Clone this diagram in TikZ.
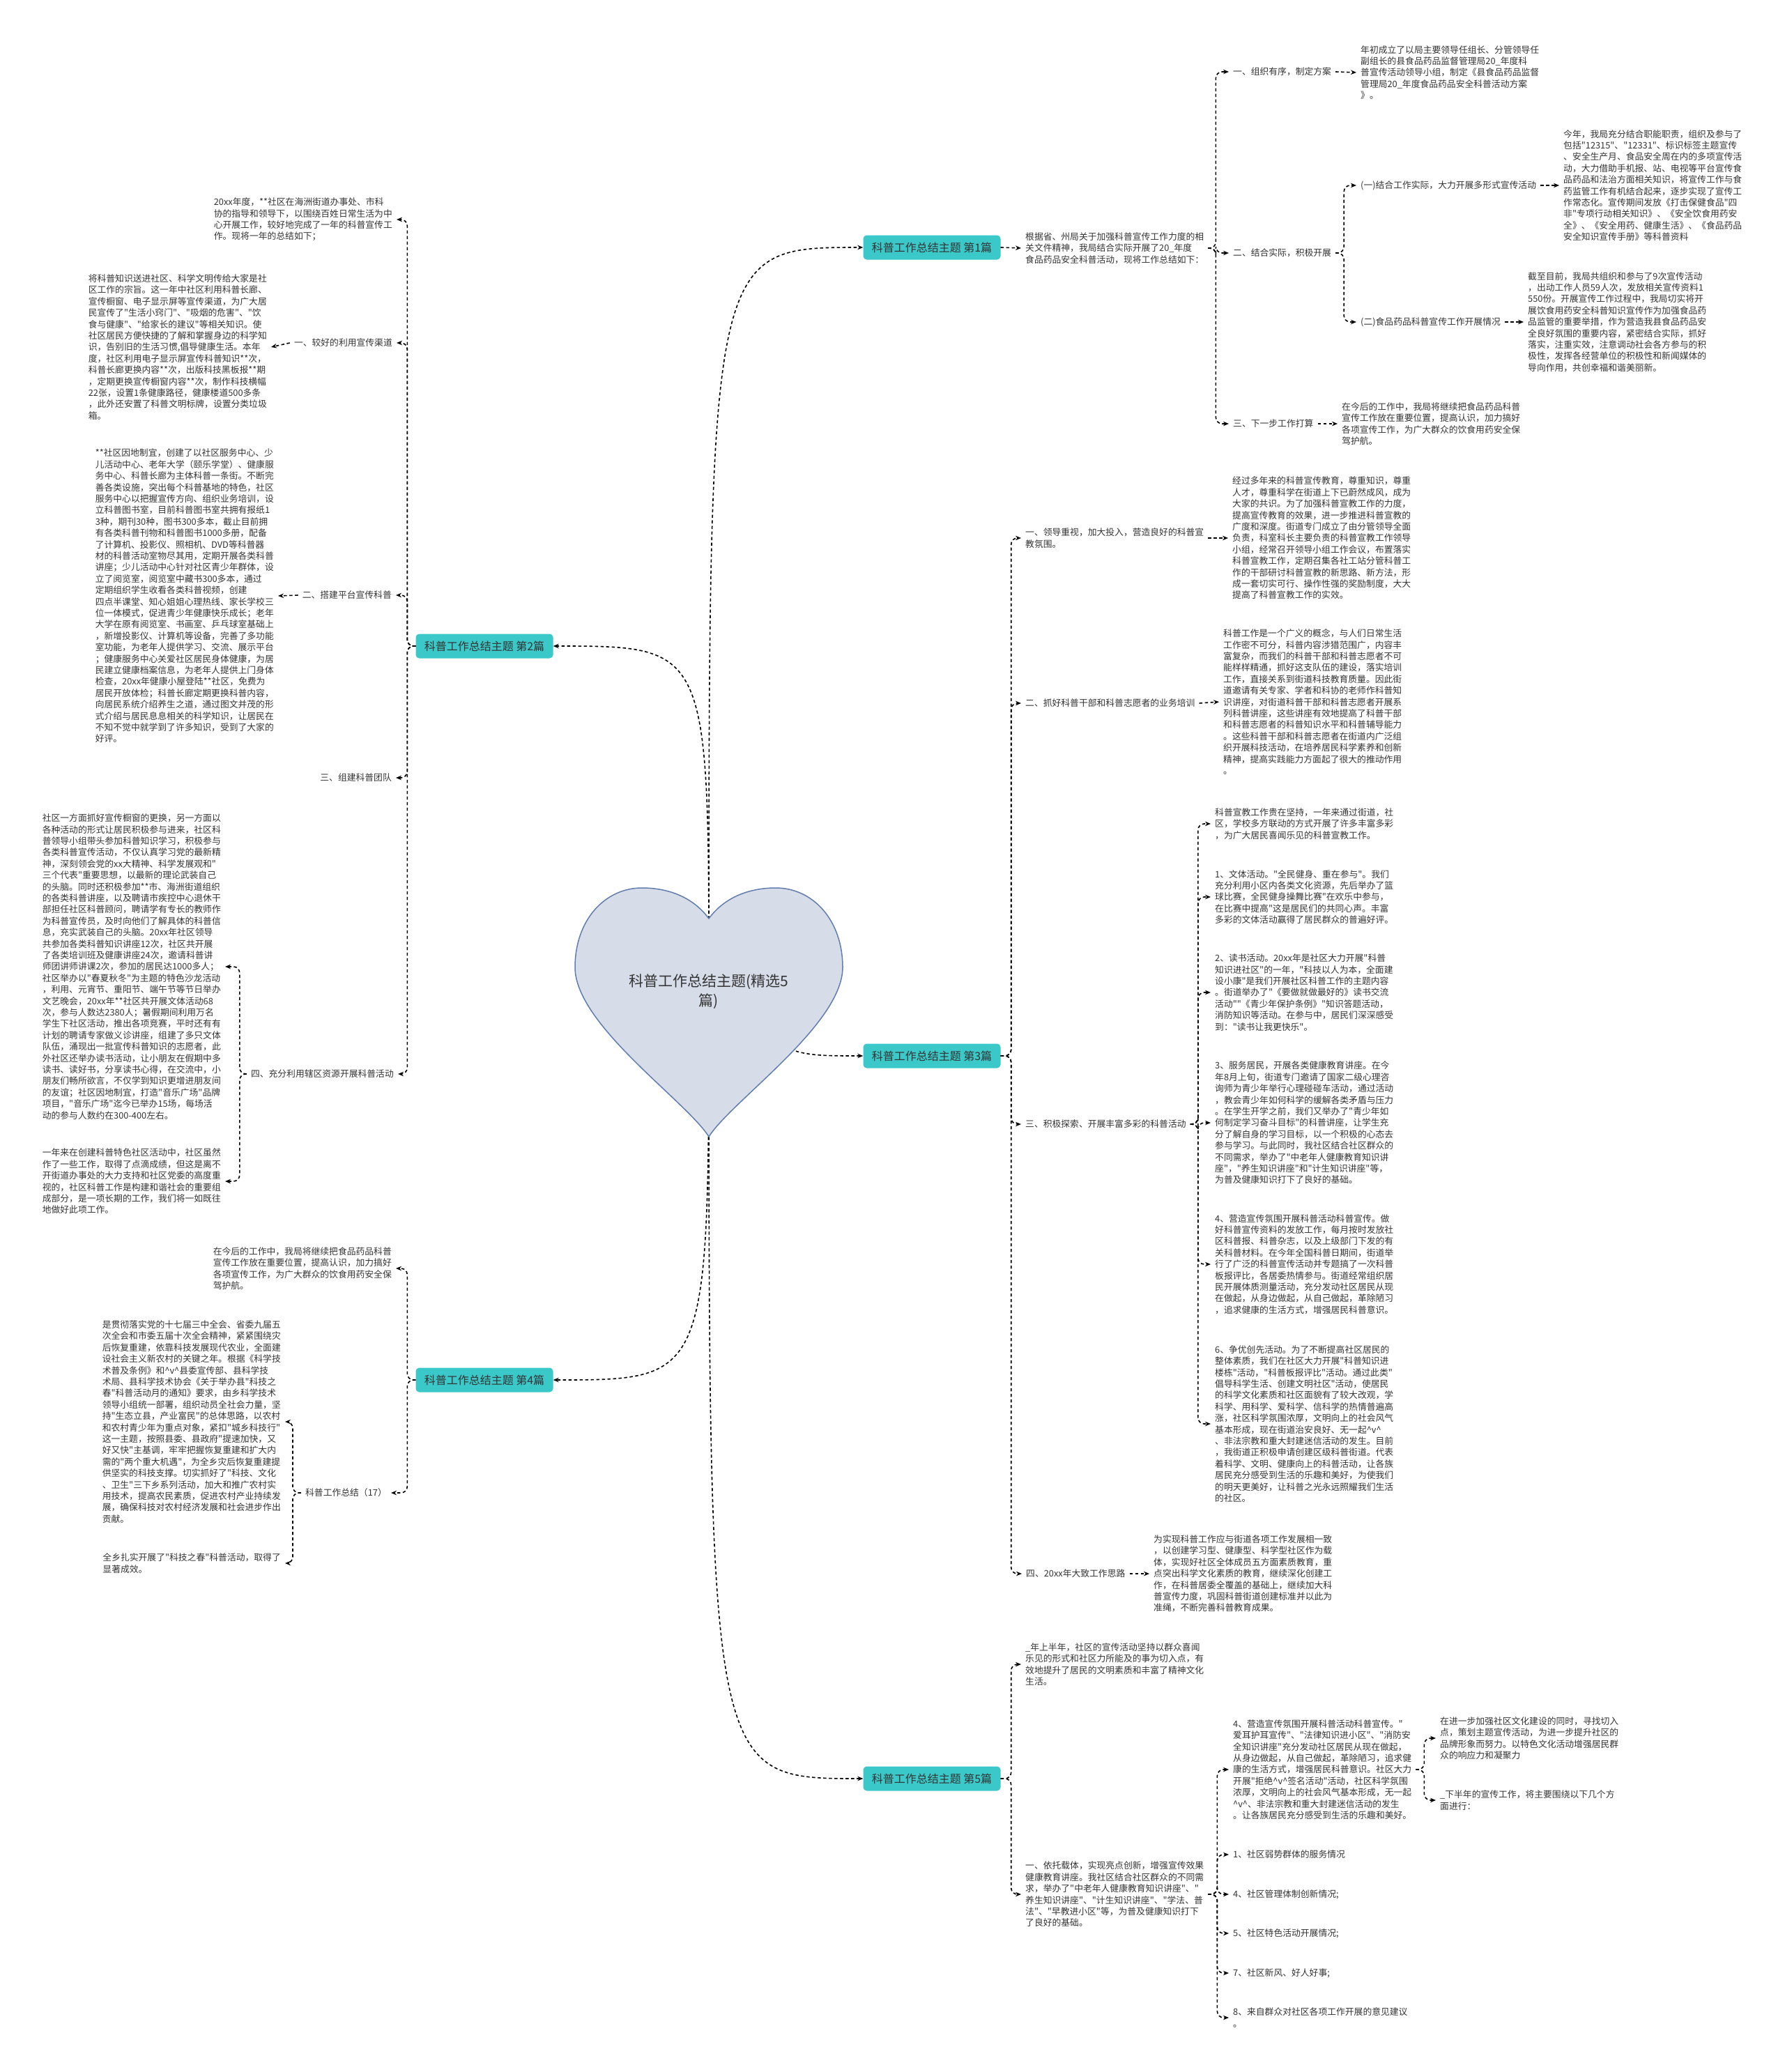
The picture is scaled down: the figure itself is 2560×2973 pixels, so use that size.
\documentclass[tikz,border=0pt]{standalone}
\usepackage{fontspec}
\setmainfont{Noto Sans CJK SC}[Ligatures=TeXOff]
\usetikzlibrary{arrows.meta}
\definecolor{tuerkis}{RGB}{58,200,200}
\definecolor{herzrand}{RGB}{95,125,175}
\definecolor{herzfuell}{RGB}{214,221,233}
\definecolor{schrift}{RGB}{51,51,51}
\newcommand{\hatv}{\textasciicircum v\textasciicircum}
\pgfdeclarelayer{hinten}
\pgfsetlayers{hinten,main}
\tikzset{
  ast/.style={fill=tuerkis, rounded corners=5pt, minimum width=197pt, minimum height=35pt,
    font=\fontsize{16}{18}\selectfont, text=schrift, inner sep=0pt},
  txt/.style={font=\fontsize{12.8}{16.4}\selectfont, text=schrift, align=left,
    inner xsep=6pt, inner ysep=2pt},
  rt/.style={txt, anchor=west},
  lt/.style={txt, anchor=east},
  pfeil/.style={draw=black, line width=1.6pt, dash pattern=on 4.5pt off 3.5pt,
    -{Stealth[length=8pt,width=6.5pt]}, rounded corners=9pt},
}
\begin{document}
\begin{tikzpicture}[x=1pt,y=-1pt]
        \useasboundingbox (0,0) rectangle (2560,2973);
        % Zentrum
        \node[font=\fontsize{21}{28}\selectfont, text=schrift, align=center] (root) at (1017,1423) {科普工作总结主题(精选5\\篇)};
        % Hauptaeste
        \node[ast] (b1) at (1337,355) {科普工作总结主题 第1篇};
        \node[ast] (b2) at (695,927) {科普工作总结主题 第2篇};
        \node[ast] (b3) at (1337,1515) {科普工作总结主题 第3篇};
        \node[ast] (b4) at (695,1980) {科普工作总结主题 第4篇};
        \node[ast] (b5) at (1337,2552) {科普工作总结主题 第5篇};
        % Ast 1
        \node[rt] (t1) at (1465,356) {根据省、州局关于加强科普宣传工作力度的相\\关文件精神，我局结合实际开展了20\_年度\\食品药品安全科普活动，现将工作总结如下：};
        \node[rt] (l1a) at (1763,103) {一、组织有序，制定方案};
        \node[rt] (l1b) at (1763,363) {二、结合实际，积极开展};
        \node[rt] (l1c) at (1763,608) {三、下一步工作打算};
        \node[rt] (x1a) at (1946,104) {年初成立了以局主要领导任组长、分管领导任\\副组长的县食品药品监督管理局20\_年度科\\普宣传活动领导小组，制定《县食品药品监督\\管理局20\_年度食品药品安全科普活动方案\\》。};
        \node[rt] (l1b1) at (1946,266) {(一)结合工作实际，大力开展多形式宣传活动};
        \node[rt] (l1b2) at (1946,462) {(二)食品药品科普宣传工作开展情况};
        \node[rt] (x1b1) at (2237,266) {今年，我局充分结合职能职责，组织及参与了\\包括"12315"、"12331"、标识标签主题宣传\\、安全生产月、食品安全周在内的多项宣传活\\动，大力借助手机报、站、电视等平台宣传食\\品药品和法治方面相关知识，将宣传工作与食\\药监管工作有机结合起来，逐步实现了宣传工\\作常态化。宣传期间发放《打击保健食品"四\\非"专项行动相关知识》、《安全饮食用药安\\全》、《安全用药、健康生活》、《食品药品\\安全知识宣传手册》等科普资料};
        \node[rt] (x1b2) at (2186,462) {截至目前，我局共组织和参与了9次宣传活动\\，出动工作人员59人次，发放相关宣传资料1\\550份。开展宣传工作过程中，我局切实将开\\展饮食用药安全科普知识宣传作为加强食品药\\品监管的重要举措，作为营造我县食品药品安\\全良好氛围的重要内容，紧密结合实际，抓好\\落实，注重实效，注意调动社会各方参与的积\\极性，发挥各经营单位的积极性和新闻媒体的\\导向作用，共创幸福和谐美丽新。};
        \node[rt] (x1c) at (1919,608) {在今后的工作中，我局将继续把食品药品科普\\宣传工作放在重要位置，提高认识，加力搞好\\各项宣传工作，为广大群众的饮食用药安全保\\驾护航。};
        % Ast 2
        \node[lt] (x2a) at (569,315) {20xx年度，**社区在海洲街道办事处、市科\\协的指导和领导下，以围绕百姓日常生活为中\\心开展工作，较好地完成了一年的科普宣传工\\作。现将一年的总结如下；};
        \node[lt] (l2a) at (569,492) {一、较好的利用宣传渠道};
        \node[lt] (l2b) at (568,854) {二、搭建平台宣传科普};
        \node[lt] (l2c) at (568,1116) {三、组建科普团队};
        \node[lt] (l2d) at (571,1541) {四、充分利用辖区资源开展科普活动};
        \node[lt] (xa) at (389,498) {将科普知识送进社区、科学文明传给大家是社\\区工作的宗旨。这一年中社区利用科普长廊、\\宣传橱窗、电子显示屏等宣传渠道，为广大居\\民宣传了"生活小窍门"、"吸烟的危害"、"饮\\食与健康"、"给家长的建议"等相关知识。使\\社区居民方便快捷的了解和掌握身边的科学知\\识，告别旧的生活习惯,倡导健康生活。本年\\度，社区利用电子显示屏宣传科普知识**次，\\科普长廊更换内容**次，出版科技黑板报**期\\，定期更换宣传橱窗内容**次，制作科技横幅\\22张，设置1条健康路径，健康楼道500多条\\，此外还安置了科普文明标牌，设置分类垃圾\\箱。};
        \node[lt] (xb) at (399,855) {**社区因地制宜，创建了以社区服务中心、少\\儿活动中心、老年大学（颐乐学堂）、健康服\\务中心、科普长廊为主体科普一条街。不断完\\善各类设施，突出每个科普基地的特色，社区\\服务中心以把握宣传方向、组织业务培训，设\\立科普图书室，目前科普图书室共拥有报纸1\\3种，期刊30种，图书300多本，截止目前拥\\有各类科普刊物和科普图书1000多册，配备\\了计算机、投影仪、照相机、DVD等科普器\\材的科普活动室物尽其用，定期开展各类科普\\讲座；少儿活动中心针对社区青少年群体，设\\立了阅览室，阅览室中藏书300多本，通过\\定期组织学生收看各类科普视频，创建\\四点半课堂、知心姐姐心理热线、家长学校三\\位一体模式，促进青少年健康快乐成长；老年\\大学在原有阅览室、书画室、乒乓球室基础上\\，新增投影仪、计算机等设备，完善了多功能\\室功能，为老年人提供学习、交流、展示平台\\；健康服务中心关爱社区居民身体健康，为居\\民建立健康档案信息，为老年人提供上门身体\\检查，20xx年健康小屋登陆**社区，免费为\\居民开放体检；科普长廊定期更换科普内容，\\向居民系统介绍养生之道，通过图文并茂的形\\式介绍与居民息息相关的科学知识，让居民在\\不知不觉中就学到了许多知识，受到了大家的\\好评。};
        \node[lt] (xc) at (323,1387) {社区一方面抓好宣传橱窗的更换，另一方面以\\各种活动的形式让居民积极参与进来，社区科\\普领导小组带头参加科普知识学习，积极参与\\各类科普宣传活动，不仅认真学习党的最新精\\神，深刻领会党的xx大精神、科学发展观和"\\三个代表"重要思想，以最新的理论武装自己\\的头脑。同时还积极参加**市、海洲街道组织\\的各类科普讲座，以及聘请市疾控中心退休干\\部担任社区科普顾问，聘请学有专长的教师作\\为科普宣传员，及时向他们了解具体的科普信\\息，充实武装自己的头脑。20xx年社区领导\\共参加各类科普知识讲座12次，社区共开展\\了各类培训班及健康讲座24次，邀请科普讲\\师团讲师讲课2次，参加的居民达1000多人；\\社区举办以"春夏秋冬"为主题的特色沙龙活动\\，利用、元宵节、重阳节、端午节等节日举办\\文艺晚会，20xx年**社区共开展文体活动68\\次，参与人数达2380人；暑假期间利用万名\\学生下社区活动，推出各项竞赛，平时还有有\\计划的聘请专家做义诊讲座，组建了多只文体\\队伍，涌现出一批宣传科普知识的志愿者，此\\外社区还举办读书活动，让小朋友在假期中多\\读书、读好书，分享读书心得，在交流中，小\\朋友们畅所欲言，不仅学到知识更增进朋友间\\的友谊；社区因地制宜，打造"音乐广场"品牌\\项目，"音乐广场"迄今已举办15场，每场活\\动的参与人数约在300-400左右。};
        \node[lt] (xd) at (323,1695) {一年来在创建科普特色社区活动中，社区虽然\\作了一些工作，取得了点滴成绩，但这是离不\\开街道办事处的大力支持和社区党委的高度重\\视的，社区科普工作是构建和谐社会的重要组\\成部分，是一项长期的工作，我们将一如既往\\地做好此项工作。};
        % Ast 3
        \node[rt] (l3a) at (1465,772) {一、领导重视，加大投入，营造良好的科普宣\\教氛围。};
        \node[rt] (l3b) at (1465,1009) {二、抓好科普干部和科普志愿者的业务培训};
        \node[rt] (l3c) at (1465,1613) {三、积极探索、开展丰富多彩的科普活动};
        \node[rt] (l3d) at (1466,2258) {四、20xx年大致工作思路};
        \node[rt] (x3a) at (1762,772) {经过多年来的科普宣传教育，尊重知识，尊重\\人才，尊重科学在街道上下已蔚然成风，成为\\大家的共识。为了加强科普宣教工作的力度，\\提高宣传教育的效果，进一步推进科普宣教的\\广度和深度。街道专门成立了由分管领导全面\\负责，科室科长主要负责的科普宣教工作领导\\小组，经常召开领导小组工作会议，布置落实\\科普宣教工作，定期召集各社工站分管科普工\\作的干部研讨科普宣教的新思路、新方法，形\\成一套切实可行、操作性强的奖励制度，大大\\提高了科普宣教工作的实效。};
        \node[rt] (x3b) at (1749,1007) {科普工作是一个广义的概念，与人们日常生活\\工作密不可分，科普内容涉猎范围广，内容丰\\富复杂，而我们的科普干部和科普志愿者不可\\能样样精通，抓好这支队伍的建设，落实培训\\工作，直接关系到街道科技教育质量。因此街\\道邀请有关专家、学者和科协的老师作科普知\\识讲座，对街道科普干部和科普志愿者开展系\\列科普讲座，这些讲座有效地提高了科普干部\\和科普志愿者的科普知识水平和科普辅导能力\\。这些科普干部和科普志愿者在街道内广泛组\\织开展科技活动，在培养居民科学素养和创新\\精神，提高实践能力方面起了很大的推动作用\\。};
        \node[rt] (i1) at (1737,1182) {科普宣教工作贵在坚持，一年来通过街道，社\\区，学校多方联动的方式开展了许多丰富多彩\\，为广大居民喜闻乐见的科普宣教工作。};
        \node[rt] (i2) at (1737,1287) {1、文体活动。"全民健身、重在参与"。我们\\充分利用小区内各类文化资源，先后举办了篮\\球比赛，全民健身操舞比赛"在欢乐中参与，\\在比赛中提高"这是居民们的共同心声。丰富\\多彩的文体活动赢得了居民群众的普遍好评。};
        \node[rt] (i3) at (1737,1424) {2、读书活动。20xx年是社区大力开展"科普\\知识进社区"的一年，"科技以人为本，全面建\\设小康"是我们开展社区科普工作的主题内容\\。街道举办了"《要做就做最好的》读书交流\\活动""《青少年保护条例》"知识答题活动，\\消防知识等活动。在参与中，居民们深深感受\\到："读书让我更快乐"。};
        \node[rt] (i4) at (1737,1611) {3、服务居民，开展各类健康教育讲座。在今\\年8月上旬，街道专门邀请了国家二级心理咨\\询师为青少年举行心理碰碰车活动，通过活动\\，教会青少年如何科学的缓解各类矛盾与压力\\。在学生开学之前，我们又举办了"青少年如\\何制定学习奋斗目标"的科普讲座，让学生充\\分了解自身的学习目标，以一个积极的心态去\\参与学习。与此同时，我社区结合社区群众的\\不同需求，举办了"中老年人健康教育知识讲\\座"，"养生知识讲座"和"计生知识讲座"等，\\为普及健康知识打下了良好的基础。};
        \node[rt] (i5) at (1737,1814) {4、营造宣传氛围开展科普活动科普宣传。做\\好科普宣传资料的发放工作，每月按时发放社\\区科普报、科普杂志，以及上级部门下发的有\\关科普材料。在今年全国科普日期间，街道举\\行了广泛的科普宣传活动并专题搞了一次科普\\板报评比，各居委热情参与。街道经常组织居\\民开展体质测量活动，充分发动社区居民从现\\在做起，从身边做起，从自己做起，革除陋习\\，追求健康的生活方式，增强居民科普意识。};
        \node[rt] (i6) at (1737,2043) {6、争优创先活动。为了不断提高社区居民的\\整体素质，我们在社区大力开展"科普知识进\\楼栋"活动，"科普板报评比"活动。通过此类"\\倡导科学生活、创建文明社区"活动，使居民\\的科学文化素质和社区面貌有了较大改观，学\\科学、用科学、爱科学、信科学的热情普遍高\\涨，社区科学氛围浓厚，文明向上的社会风气\\基本形成，现在街道治安良好、无一起\hatv\\、非法宗教和重大封建迷信活动的发生。目前\\，我街道正积极申请创建区级科普街道。代表\\着科学、文明、健康向上的科普活动，让各族\\居民充分感受到生活的乐趣和美好，为使我们\\的明天更美好，让科普之光永远照耀我们生活\\的社区。};
        \node[rt] (x3d) at (1649,2258) {为实现科普工作应与街道各项工作发展相一致\\，以创建学习型、健康型、科学型社区作为载\\体，实现好社区全体成员五方面素质教育，重\\点突出科学文化素质的教育，继续深化创建工\\作，在科普居委全覆盖的基础上，继续加大科\\普宣传力度，巩固科普街道创建标准并以此为\\准绳，不断完善科普教育成果。};
        % Ast 4
        \node[lt] (x4a) at (568,1820) {在今后的工作中，我局将继续把食品药品科普\\宣传工作放在重要位置，提高认识，加力搞好\\各项宣传工作，为广大群众的饮食用药安全保\\驾护航。};
        \node[lt] (l4b) at (561,2142) {科普工作总结（17）};
        \node[lt] (xe) at (409,2040) {是贯彻落实党的十七届三中全会、省委九届五\\次全会和市委五届十次全会精神，紧紧围绕灾\\后恢复重建，依靠科技发展现代农业，全面建\\设社会主义新农村的关键之年。根据《科学技\\术普及条例》和\hatv 县委宣传部、县科学技\\术局、县科学技术协会《关于举办县"科技之\\春"科普活动月的通知》要求，由乡科学技术\\领导小组统一部署，组织动员全社会力量，坚\\持"生态立县，产业富民"的总体思路，以农村\\和农村青少年为重点对象，紧扣"城乡科技行"\\这一主题，按照县委、县政府"提速加快，又\\好又快"主基调，牢牢把握恢复重建和扩大内\\需的"两个重大机遇"，为全乡灾后恢复重建提\\供坚实的科技支撑。切实抓好了"科技、文化\\、卫生"三下乡系列活动，加大和推广农村实\\用技术，提高农民素质，促进农村产业持续发\\展，确保科技对农村经济发展和社会进步作出\\贡献。};
        \node[lt] (xf) at (409,2243) {全乡扎实开展了"科技之春"科普活动，取得了\\显著成效。};
        % Ast 5
        \node[rt] (k5) at (1465,2388) {\_年上半年，社区的宣传活动坚持以群众喜闻\\乐见的形式和社区力所能及的事为切入点，有\\效地提升了居民的文明素质和丰富了精神文化\\生活。};
        \node[rt] (l5) at (1465,2718) {一、依托载体，实现亮点创新，增强宣传效果\\健康教育讲座。我社区结合社区群众的不同需\\求，举办了"中老年人健康教育知识讲座"、"\\养生知识讲座"、"计生知识讲座"、"学法、普\\法"、"早教进小区"等，为普及健康知识打下\\了良好的基础。};
        \node[rt] (m5) at (1763,2539) {4、营造宣传氛围开展科普活动科普宣传。"\\爱耳护耳宣传"、"法律知识进小区"、"消防安\\全知识讲座"充分发动社区居民从现在做起，\\从身边做起，从自己做起，革除陋习，追求健\\康的生活方式，增强居民科普意识。社区大力\\开展"拒绝\hatv 签名活动"活动，社区科学氛围\\浓厚，文明向上的社会风气基本形成，无一起\\\hatv 、非法宗教和重大封建迷信活动的发生\\。让各族居民充分感受到生活的乐趣和美好。};
        \node[rt] (n5) at (2060,2494) {在进一步加强社区文化建设的同时，寻找切入\\点，策划主题宣传活动，为进一步提升社区的\\品牌形象而努力。以特色文化活动增强居民群\\众的响应力和凝聚力};
        \node[rt] (o5) at (2060,2583) {\_下半年的宣传工作，将主要围绕以下几个方\\面进行：};
        \node[rt] (p1) at (1763,2661) {1、社区弱势群体的服务情况};
        \node[rt] (p2) at (1763,2718) {4、社区管理体制创新情况;};
        \node[rt] (p3) at (1763,2774) {5、社区特色活动开展情况;};
        \node[rt] (p4) at (1763,2831) {7、社区新风、好人好事;};
        \node[rt] (p5) at (1763,2895) {8、来自群众对社区各项工作开展的意见建议\\。};
        % Verbindungen
        \begin{pgfonlayer}{hinten}
        \draw[pfeil] (root.center) .. controls (1017,355) and (1017,355) .. (b1.west);
        \draw[pfeil] (root.center) .. controls (1017,927) and (1017,927) .. (b2.east);
        \draw[pfeil] (root.center) .. controls (1130,1515) and (1130,1515) .. (b3.west);
        \draw[pfeil] (root.center) .. controls (1017,1980) and (1017,1980) .. (b4.east);
        \draw[pfeil] (root.center) .. controls (1017,2552) and (1017,2552) .. (b5.west);
        % Herz
        \filldraw[fill=herzfuell, draw=herzrand, line width=1.5pt] (1017,1318) .. controls (995,1288) and (960,1274) .. (921,1274) .. controls (868,1274) and (825,1320) .. (825,1388) .. controls (825,1470) and (985,1580) .. (1017,1631) .. controls (1049,1580) and (1209,1470) .. (1209,1388) .. controls (1209,1320) and (1166,1274) .. (1113,1274) .. controls (1074,1274) and (1039,1288) .. (1017,1318) -- cycle;
        \end{pgfonlayer}
        % Ast 1
        \draw[pfeil] (b1.east) -- (t1.west);
        \foreach \k in {l1a,l1b,l1c} \draw[pfeil] (t1.east) -- ++(11,0) |- (\k.west);
        \draw[pfeil] (l1a.east) -- (x1a.west);
        \foreach \k in {l1b1,l1b2} \draw[pfeil] (l1b.east) -- ++(12,0) |- (\k.west);
        \draw[pfeil] (l1b1.east) -- (x1b1.west);
        \draw[pfeil] (l1b2.east) -- (x1b2.west);
        \draw[pfeil] (l1c.east) -- (x1c.west);
        % Ast 2
        \foreach \k in {x2a,l2a,l2b,l2c,l2d} \draw[pfeil] (b2.west) -- ++(-12,0) |- (\k.east);
        \draw[pfeil] (l2a.west) -- (xa.east);
        \draw[pfeil] (l2b.west) -- (xb.east);
        \foreach \k in {xc,xd} \draw[pfeil] (l2d.west) -- ++(-10,0) |- (\k.east);
        % Ast 3
        \foreach \k in {l3a,l3b,l3c,l3d} \draw[pfeil] (b3.east) -- ++(15,0) |- (\k.west);
        \draw[pfeil] (l3a.east) -- (x3a.west);
        \draw[pfeil] (l3b.east) -- (x3b.west);
        \foreach \k in {i1,i2,i3,i4,i5,i6} \draw[pfeil] (l3c.east) -- ++(11,0) |- (\k.west);
        \draw[pfeil] (l3d.east) -- (x3d.west);
        % Ast 4
        \foreach \k in {x4a,l4b} \draw[pfeil] (b4.west) -- ++(-12,0) |- (\k.east);
        \foreach \k in {xe,xf} \draw[pfeil] (l4b.west) -- ++(-12,0) |- (\k.east);
        % Ast 5
        \foreach \k in {k5,l5} \draw[pfeil] (b5.east) -- ++(15,0) |- (\k.west);
        \foreach \k in {m5,p1,p2,p3,p4,p5} \draw[pfeil] (l5.east) -- ++(13,0) |- (\k.west);
        \foreach \k in {n5,o5} \draw[pfeil] (m5.east) -- ++(12,0) |- (\k.west);
\end{tikzpicture}
\end{document}
